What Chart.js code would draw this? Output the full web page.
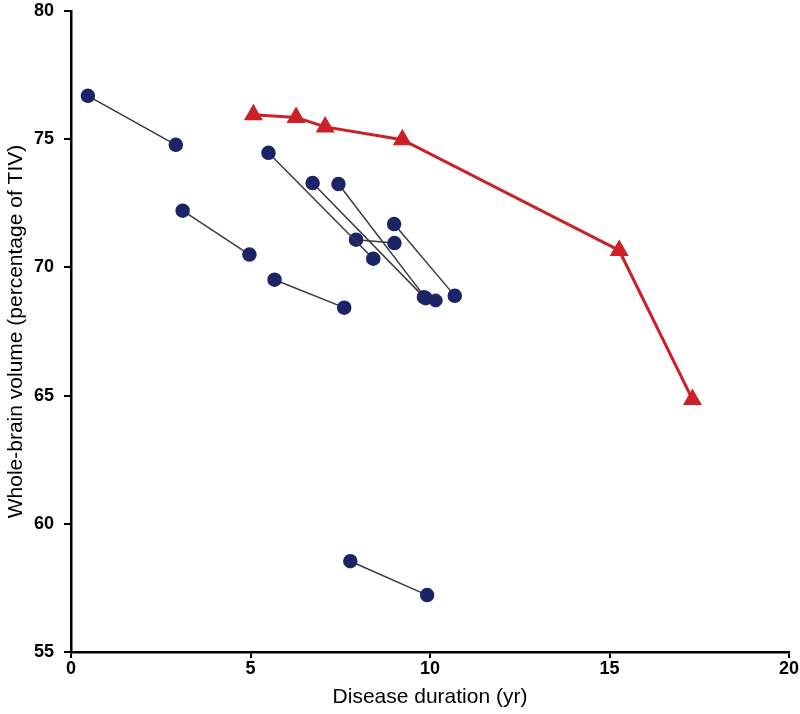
<!DOCTYPE html>
<html>
<head>
<meta charset="utf-8">
<script src="https://cdn.jsdelivr.net/npm/chart.js@4/dist/chart.umd.min.js"></script>
<style>
  body { margin: 0; background: #fff; }
  #wrap { width: 800px; height: 714px; }
</style>
</head>
<body>
<div id="wrap"><canvas id="chart"></canvas></div>
<script>
// individual patients: first and second scan
const startDuration = [0.47, 3.11, 5.67, 5.5, 6.73, 7.45, 9.0, 7.94, 7.78];
const startVolume   = [76.69, 72.21, 69.52, 74.47, 73.29, 73.25, 71.69, 71.08, 58.54];
const endDuration   = [2.92, 4.97, 7.61, 8.42, 9.83, 9.88, 10.69, 9.01, 9.92];
const endVolume     = [74.78, 70.5, 68.43, 70.34, 68.84, 68.8, 68.89, 70.95, 57.22];

// single scan patient
const singleDuration = [10.16];
const singleVolume   = [68.71];

// group mean curve
const meanDuration = [5.08, 6.27, 7.08, 9.23, 15.27, 17.31];
const meanVolume   = [75.95, 75.85, 75.48, 74.98, 70.66, 64.85];

const xTicks = [0, 5, 10, 15, 20];
const yTicks = [55, 60, 65, 70, 75, 80];

const navy = '#1b2466';
const red = '#cc2027';

const datasets = [];

startDuration.forEach((x, i) => {
    datasets.push({
        data: [{ x: x, y: startVolume[i] }, { x: endDuration[i], y: endVolume[i] }],
        borderColor: '#3a3a3a',
        borderWidth: 1.5,
        pointBackgroundColor: navy,
        pointBorderColor: navy,
        pointRadius: 6.5,
        showLine: true
    });
});

datasets.push({
    data: singleDuration.map((x, i) => ({ x: x, y: singleVolume[i] })),
    pointBackgroundColor: navy,
    pointBorderColor: navy,
    pointRadius: 6.5,
    showLine: false
});

datasets.push({
    data: meanDuration.map((x, i) => ({ x: x, y: meanVolume[i] })),
    borderColor: red,
    borderWidth: 3,
    pointStyle: 'triangle',
    pointBackgroundColor: red,
    pointBorderColor: red,
    pointRadius: 8,
    showLine: true
});

const tickFont = { family: 'Liberation Sans, Arial, sans-serif', size: 18, weight: 'bold' };
const titleFont = { family: 'Liberation Sans, Arial, sans-serif', size: 21 };

new Chart(document.getElementById('chart').getContext('2d'), {
    type: 'scatter',
    data: { datasets: datasets },
    options: {
        responsive: true,
        maintainAspectRatio: false,
        animation: false,
        layout: { padding: { top: 10, right: 10, left: 0, bottom: 0 } },
        plugins: { legend: { display: false }, tooltip: { enabled: false } },
        scales: {
            x: {
                type: 'linear',
                min: 0,
                max: 20,
                afterBuildTicks: axis => { axis.ticks = xTicks.map(v => ({ value: v })); },
                afterFit: axis => { axis.height = 62; },
                grid: { drawOnChartArea: false, drawTicks: true, tickLength: 6, color: '#000', lineWidth: 2 },
                border: { color: '#000', width: 2.5 },
                ticks: { color: '#000', font: tickFont, padding: 0, maxRotation: 0 },
                title: { display: true, text: 'Disease duration (yr)', color: '#000', font: titleFont, padding: { top: 0 } }
            },
            y: {
                type: 'linear',
                min: 55,
                max: 80,
                afterBuildTicks: axis => { axis.ticks = yTicks.map(v => ({ value: v })); },
                afterFit: axis => { axis.width = 71; axis.paddingTop = 0; },
                grid: { drawOnChartArea: false, drawTicks: true, tickLength: 7, color: '#000', lineWidth: 2 },
                border: { color: '#000', width: 2.5 },
                ticks: { color: '#000', font: tickFont, padding: 10 },
                title: { display: true, text: 'Whole-brain volume (percentage of TIV)', color: '#000', font: titleFont, padding: { bottom: 0 } }
            }
        }
    }
});
</script>
</body>
</html>
